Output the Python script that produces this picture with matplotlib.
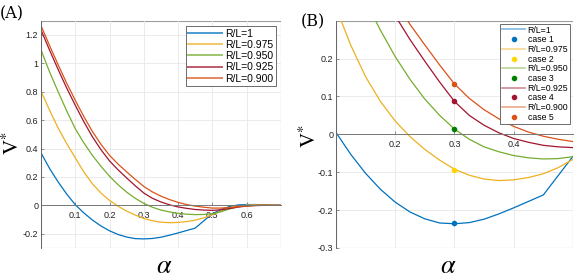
from matplotlib import pyplot as plt
from matplotlib.lines import Line2D
from matplotlib.patches import Rectangle
import numpy as np

# data
alpha = [0.0, 0.025, 0.05, 0.075, 0.1, 0.125, 0.15, 0.175, 0.2, 0.225,
         0.25, 0.275, 0.3, 0.325, 0.35, 0.375, 0.4, 0.425, 0.45, 0.475,
         0.5, 0.525, 0.55, 0.575, 0.6, 0.625, 0.65, 0.675, 0.7]
v_100 = [0.37, 0.26, 0.165, 0.08, 0.005, -0.053, -0.103, -0.145, -0.179, -0.205,
         -0.223, -0.234, -0.236, -0.233, -0.224, -0.21, -0.194, -0.177, -0.16, -0.109,
         -0.058, -0.03, -0.008, 0.003, 0.006, 0.006, 0.004, 0.001, 0.0]
v_975 = [0.805, 0.67, 0.545, 0.435, 0.335, 0.235, 0.152, 0.087, 0.035, -0.006,
         -0.04, -0.068, -0.092, -0.108, -0.118, -0.122, -0.12, -0.114, -0.104, -0.088,
         -0.066, -0.04, -0.018, -0.005, 0.002, 0.004, 0.003, 0.001, 0.0]
v_950 = [1.095, 0.94, 0.80, 0.665, 0.54, 0.44, 0.352, 0.275, 0.205, 0.145,
         0.093, 0.05, 0.014, -0.013, -0.033, -0.046, -0.056, -0.062, -0.065, -0.064,
         -0.059, -0.045, -0.025, -0.01, -0.002, 0.0, 0.0, 0.0, 0.0]
v_925 = [1.235, 1.093, 0.957, 0.826, 0.705, 0.589, 0.483, 0.392, 0.313, 0.25,
         0.193, 0.138, 0.087, 0.05, 0.024, 0.004, -0.011, -0.021, -0.029, -0.033,
         -0.035, -0.031, -0.022, -0.012, -0.005, -0.001, 0.0, 0.0, 0.0]
v_900 = [1.265, 1.125, 0.99, 0.86, 0.74, 0.625, 0.52, 0.43, 0.352, 0.29,
         0.236, 0.183, 0.133, 0.095, 0.065, 0.041, 0.021, 0.006, -0.005, -0.013,
         -0.019, -0.019, -0.015, -0.009, -0.004, -0.001, 0.0, 0.0, 0.0]
series = [v_100, v_975, v_950, v_925, v_900]
labels = ["R/L=1", "R/L=0.975", "R/L=0.950", "R/L=0.925", "R/L=0.900"]

case_alpha = [0.3, 0.3, 0.3, 0.3, 0.3]
case_v = [-0.235, -0.093, 0.013, 0.087, 0.133]
case_labels = ["case 1", "case 2", "case 3", "case 4", "case 5"]

line_colors = ["#0072BD", "#EDB120", "#77AC30", "#A2142F", "#D95319"]
case_colors = ["#0072BD", "#FFD700", "#008000", "#A2142F", "#D95319"]

plt.rcParams["font.family"] = ["Liberation Sans", "DejaVu Sans"]
plt.rcParams["mathtext.fontset"] = "stix"

# set-up figure
fig = plt.figure(figsize=(5.88, 2.8), dpi=100)
ax1 = fig.add_axes([0.0697, 0.1143, 0.408, 0.8118])
ax2 = fig.add_axes([0.5714, 0.1143, 0.403, 0.8118])


def style_axes(ax, xticks, yticks, xlim, ylim, xlab_pos, ylab_pos):
    ax.set_xlim(xlim)
    ax.set_ylim(ylim)
    ax.set_xticks(xticks)
    ax.set_yticks(yticks)
    ax.set_xticklabels(["{:g}".format(t) for t in xticks])
    ax.set_yticklabels(["{:g}".format(t) for t in yticks])
    ax.grid(True, color="#e8e8e8", linewidth=0.6)
    ax.set_axisbelow(True)
    # x axis through the origin, box drawn around
    ax.spines["bottom"].set_position(("data", 0))
    ax.spines["bottom"].set_color("#777777")
    ax.spines["bottom"].set_linewidth(0.7)
    ax.spines["left"].set_color("#666666")
    ax.spines["left"].set_linewidth(0.7)
    ax.spines["top"].set_visible(False)
    ax.spines["right"].set_visible(False)
    ax.add_patch(Rectangle((0, 0), 1, 1, transform=ax.transAxes, fill=False,
                           edgecolor="#9a9a9a", linewidth=0.8, zorder=0.5))
    ax.tick_params(direction="in", length=2, width=0.5, labelsize=6.5,
                   colors="#666666", labelcolor="#222222", pad=2)
    ax.tick_params(axis="x", pad=4)
    ax.set_xlabel(r"$\alpha$", fontsize=19)
    ax.xaxis.set_label_coords(xlab_pos, -0.025)
    ax.set_ylabel(r"$\mathrm{V}^{*}$", fontsize=15, va="center")
    ax.yaxis.set_label_coords(ylab_pos[0], ylab_pos[1])


# panel A
for v, lab, c in zip(series, labels, line_colors):
    ax1.plot(alpha, v, color=c, linewidth=0.9)
style_axes(ax1, [0.1, 0.2, 0.3, 0.4, 0.5, 0.6],
           [-0.2, 0, 0.2, 0.4, 0.6, 0.8, 1, 1.2], (0, 0.7), (-0.3, 1.3),
           0.515, (-0.12, 0.46))
handles1 = [Line2D([], [], color=c, linewidth=1.4, alpha=0.7) for c in line_colors]
leg1 = ax1.legend(handles1, labels, loc="upper right", fontsize=7.5,
                  frameon=True, fancybox=False, framealpha=1, edgecolor="#555555",
                  handlelength=3.2, handletextpad=0.3, labelspacing=0.12,
                  borderpad=0.25, borderaxespad=0.5)
leg1.get_frame().set_linewidth(0.6)

# panel B
handles2 = []
labels2 = []
for v, lab, c, ca, cv, cl, cc in zip(series, labels, line_colors, case_alpha,
                                      case_v, case_labels, case_colors):
    ax2.plot(alpha, v, color=c, linewidth=0.9)
    ax2.plot(ca, cv, "o", color=cc, markersize=3)
    handles2.append(Line2D([], [], color=c, linewidth=1.2, alpha=0.5))
    handles2.append(Line2D([], [], marker="o", linestyle="none", color=cc,
                           markersize=3))
    labels2 += [lab, cl]
style_axes(ax2, [0.2, 0.3, 0.4], [-0.3, -0.2, -0.1, 0, 0.1, 0.2],
           (0.1, 0.5), (-0.3, 0.3), 0.475, (-0.112, 0.49))
leg2 = ax2.legend(handles2, labels2, loc="upper right", fontsize=6.3,
                  frameon=True, fancybox=False, framealpha=1, edgecolor="#555555",
                  handlelength=2.6, handletextpad=0.3, labelspacing=0.08,
                  borderpad=0.2, borderaxespad=0.35)
leg2.get_frame().set_linewidth(0.6)

# panel letters
fig.text(0.0, 0.935, "(A)", fontsize=11.5, family="serif")
fig.text(0.511, 0.905, "(B)", fontsize=11.5, family="serif")

# save figure
plt.savefig("out.png", dpi=100)
